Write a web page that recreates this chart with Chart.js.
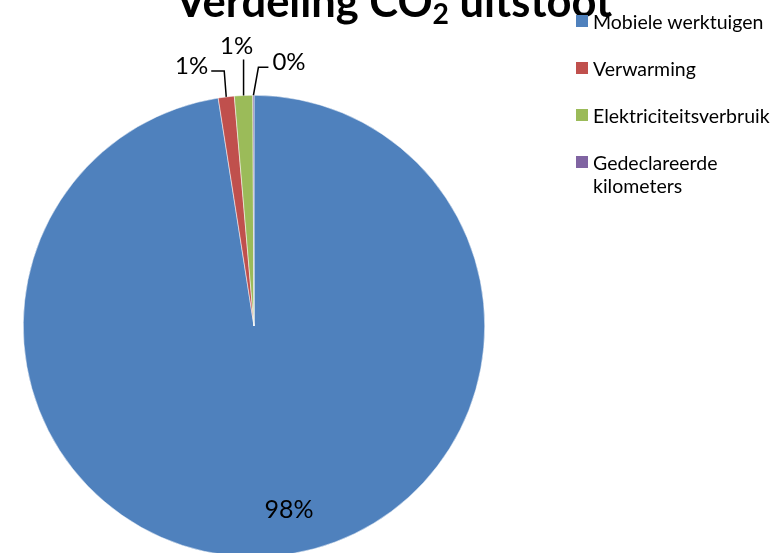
<!DOCTYPE html>
<html>
<head>
<meta charset="utf-8">
<script src="https://cdn.jsdelivr.net/npm/chart.js@4.4.1/dist/chart.umd.min.js"></script>
<style>
  html, body { margin: 0; padding: 0; background: #fff; overflow: hidden; width: 778px; height: 553px; }
  #wrap { position: relative; width: 778px; height: 553px; overflow: hidden; }
  #c { position: absolute; left: 0; top: 0; }
  #title { position: absolute; left: 0; width: 788px; text-align: center; top: -25px;
           font-family: Lato, "Open Sans", sans-serif; font-weight: bold; font-size: 43.5px; line-height: 50px; color: #000; white-space: nowrap; }
  #title sub { font-size: 0.65em; vertical-align: -0.25em; line-height: 0; }
  #legend { position: absolute; left: 576px; top: 10px; font-family: Lato, "Open Sans", sans-serif; font-size: 19.5px; color: #000; }
  .item { position: relative; padding-left: 17px; height: 47px; line-height: 23px; }
  .sw { position: absolute; left: 0; top: 5px; width: 12px; height: 12px; }
</style>
</head>
<body>
<div id="wrap">
  <canvas id="c" width="778" height="600"></canvas>
  <div id="title">Verdeling CO<sub>2</sub> uitstoot</div>
  <div id="legend"></div>
</div>
<script>
const categories = ["Mobiele werktuigen", "Verwarming", "Elektriciteitsverbruik", "Gedeclareerde kilometers"];
const legendLines = [["Mobiele werktuigen"], ["Verwarming"], ["Elektriciteitsverbruik"], ["Gedeclareerde", "kilometers"]];
const values = [97.52, 1.12, 1.28, 0.08];
const colors = ["#4F81BD", "#C0504D", "#9BBB59", "#8064A2"];

// HTML legend
const lg = document.getElementById('legend');
legendLines.forEach((lines, i) => {
  const d = document.createElement('div');
  d.className = 'item';
  const s = document.createElement('span');
  s.className = 'sw';
  s.style.background = colors[i];
  d.appendChild(s);
  d.appendChild(document.createTextNode(lines[0]));
  for (let k = 1; k < lines.length; k++) {
    d.appendChild(document.createElement('br'));
    d.appendChild(document.createTextNode(lines[k]));
  }
  lg.appendChild(d);
});

const total = values.reduce((a, b) => a + b, 0);

const labelPlugin = {
  id: 'pieLabels',
  afterDatasetsDraw(chart) {
    const ctx = chart.ctx;
    const meta = chart.getDatasetMeta(0);
    ctx.save();
    const small = '24px Lato, "Open Sans", sans-serif';
    ctx.font = small;
    ctx.fillStyle = '#000';
    ctx.strokeStyle = '#000';
    ctx.lineWidth = 1.5;
    ctx.textBaseline = 'middle';
    meta.data.forEach((arc, i) => {
      const p = arc.getProps(['x', 'y', 'startAngle', 'endAngle', 'outerRadius']);
      const mid = (p.startAngle + p.endAngle) / 2;
      const txt = Math.round(values[i] / total * 100) + '%';
      const ax = p.x + Math.cos(mid) * p.outerRadius;
      const ay = p.y + Math.sin(mid) * p.outerRadius;
      if (i === 0) {
        const a = mid - 0.11, r = p.outerRadius * 0.81;
        ctx.textAlign = 'center';
        ctx.font = '25px Lato, "Open Sans", sans-serif';
        ctx.fillText(txt, p.x + Math.cos(a) * r, p.y + Math.sin(a) * r);
        ctx.font = small;
        return;
      }
      ctx.beginPath();
      if (i === 1) {
        ctx.moveTo(ax, ay);
        ctx.lineTo(ax - 2, ay - 26);
        ctx.lineTo(ax - 15, ay - 26);
        ctx.stroke();
        ctx.textAlign = 'right';
        ctx.fillText(txt, ax - 18, ay - 31);
      } else if (i === 2) {
        ctx.moveTo(ax, ay);
        ctx.lineTo(ax, ay - 36);
        ctx.stroke();
        ctx.textAlign = 'center';
        ctx.fillText(txt, ax - 7, ay - 49);
      } else {
        ctx.moveTo(ax, ay);
        ctx.lineTo(ax + 5, ay - 28);
        ctx.lineTo(ax + 15, ay - 28);
        ctx.stroke();
        ctx.textAlign = 'left';
        ctx.fillText(txt, ax + 19, ay - 33);
      }
    });
    ctx.restore();
  }
};

new Chart(document.getElementById('c'), {
  type: 'pie',
  data: {
    labels: categories,
    datasets: [{
      data: values,
      backgroundColor: colors,
      borderColor: '#ffffff',
      borderWidth: 0.5
    }]
  },
  options: {
    responsive: false,
    animation: false,
    devicePixelRatio: 1,
    layout: { padding: { left: 23, top: 95, right: 293, bottom: 43 } },
    plugins: {
      legend: { display: false },
      title: { display: false },
      tooltip: { enabled: false }
    }
  },
  plugins: [labelPlugin]
});
</script>
</body>
</html>
